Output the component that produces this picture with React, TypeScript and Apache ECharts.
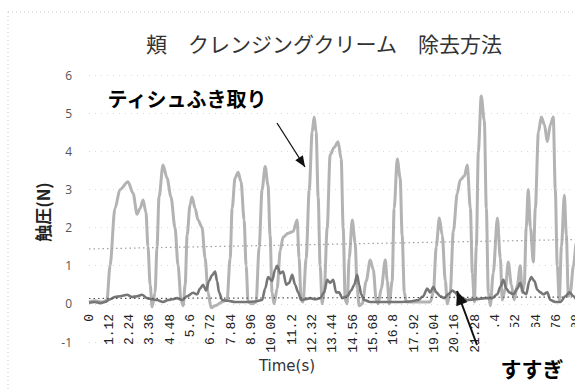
import React, { useEffect, useRef } from "react";
import * as echarts from "echarts";

const titleText = "頬　クレンジングクリーム　除去方法";
const yAxisName = "触圧(N)";
const xAxisName = "Time(s)";
const wipeLabel = "ティシュふき取り";
const rinseLabel = "すすぎ";

const xTickStep = 1.12;
const xMin = 0;
const xMax = 28;
const yMin = -1;
const yMax = 6;

// ティシュふき取り (light grey): [time(s), force(N)]
const wipeData: [number, number][] = [
  [0, 0.05], [0.33, 0.08], [0.77, 0.05], [0.99, 0.1], [1.16, 1.0], [1.43, 2.5], [1.71, 3.0],
  [2.15, 3.2], [2.43, 2.9], [2.65, 2.35], [2.81, 2.5], [2.98, 2.72], [3.14, 2.4], [3.25, 1.5],
  [3.37, 0.5], [3.48, -0.08], [3.64, 0.3], [3.75, 1.5], [3.86, 2.8], [4.08, 3.64], [4.3, 3.3],
  [4.52, 2.8], [4.74, 2.0], [4.91, 1.0], [5.07, 0.1], [5.19, -0.05], [5.3, 0.5], [5.41, 1.8],
  [5.57, 2.6], [5.68, 2.8], [5.85, 2.5], [6.01, 2.2], [6.23, 2.0], [6.4, 1.2], [6.56, 0.3],
  [6.73, -0.1], [6.95, -0.05], [7.34, 0.05], [7.61, 0.1], [7.78, 1.2], [7.89, 2.5], [8.05, 3.3],
  [8.22, 3.45], [8.38, 3.2], [8.55, 2.2], [8.66, 1.0], [8.77, 0.05], [8.99, 0.0], [9.21, 0.05],
  [9.38, 1.5], [9.54, 3.0], [9.71, 3.6], [9.87, 3.1], [9.98, 1.8], [10.09, 0.3], [10.2, 0.0],
  [10.37, 0.4], [10.54, 1.4], [10.7, 1.75], [10.98, 1.85], [11.25, 1.9], [11.47, 2.2], [11.58, 1.2],
  [11.69, 0.1], [11.8, 0.05], [11.97, 1.2], [12.14, 3.0], [12.3, 4.5], [12.41, 4.9], [12.52, 4.5],
  [12.63, 2.8], [12.74, 1.0], [12.85, 0.0], [12.96, 0.3], [13.13, 2.0], [13.29, 3.9], [13.51, 4.1],
  [13.73, 4.25], [13.9, 3.8], [14.01, 2.0], [14.12, 0.1], [14.23, 0.0], [14.34, 1.2], [14.51, 2.2],
  [14.67, 1.6], [14.78, 0.4], [14.89, -0.05], [15.06, 0.0], [15.28, 0.6], [15.5, 1.15], [15.67, 0.9],
  [15.83, 0.1], [15.94, 0.0], [16.11, 0.4], [16.33, 1.15], [16.44, 0.6], [16.55, 0.0], [16.71, 0.6],
  [16.82, 2.5], [16.99, 3.8], [17.15, 3.3], [17.26, 1.8], [17.38, 0.3], [17.49, 0.05], [18.15, 0.05],
  [18.81, 0.05], [18.98, 0.3], [19.14, 1.5], [19.31, 2.25], [19.47, 1.8], [19.64, 0.6], [19.75, 0.0],
  [19.91, 0.3], [20.08, 1.9], [20.3, 2.9], [20.46, 3.25], [20.69, 3.35], [20.85, 3.64], [21.02, 2.5],
  [21.13, 0.8], [21.24, 0.05], [21.35, 1.5], [21.46, 4.0], [21.62, 5.45], [21.79, 4.8], [21.9, 2.5],
  [22.01, 0.3], [22.12, -0.05], [22.28, 0.8], [22.51, 2.25], [22.67, 1.2], [22.78, 0.1], [22.95, 0.4],
  [23.11, 1.1], [23.28, 0.5], [23.44, 0.1], [23.61, 0.5], [23.77, 1.0], [23.88, 0.3], [23.99, 0.5],
  [24.1, 2.0], [24.21, 3.0], [24.33, 2.0], [24.49, 1.1], [24.6, 2.5], [24.77, 4.5], [24.93, 4.9],
  [25.1, 4.7], [25.26, 4.25], [25.43, 4.7], [25.59, 4.9], [25.7, 3.0], [25.81, 1.0], [25.92, 0.1],
  [26.04, 1.5], [26.2, 2.85], [26.31, 1.8], [26.42, 0.2], [26.53, 0.3], [26.7, 1.0], [26.86, 1.6],
  [27.08, 1.2],
];

// すすぎ (dark grey): [time(s), force(N)]
const rinseData: [number, number][] = [
  [0, 0.03], [0.33, 0.05], [0.61, 0.02], [0.88, 0.05], [1.16, 0.12], [1.43, 0.18], [1.71, 0.2],
  [2.1, 0.24], [2.37, 0.18], [2.65, 0.2], [2.92, 0.24], [3.2, 0.15], [3.48, 0.12], [3.75, 0.1],
  [4.08, 0.05], [4.36, 0.1], [4.58, 0.12], [4.85, 0.15], [5.13, 0.1], [5.41, 0.2], [5.74, 0.29],
  [5.96, 0.25], [6.12, 0.4], [6.29, 0.5], [6.45, 0.35], [6.62, 0.6], [6.78, 0.75], [6.95, 0.85],
  [7.06, 0.6], [7.17, 0.3], [7.34, 0.1], [7.67, 0.08], [8.05, 0.05], [8.61, 0.05], [9.16, 0.06],
  [9.54, 0.1], [9.71, 0.4], [9.87, 0.7], [10.09, 0.6], [10.26, 0.9], [10.37, 1.0], [10.54, 0.8],
  [10.7, 0.85], [10.87, 0.5], [11.03, 0.55], [11.2, 0.76], [11.36, 0.5], [11.53, 0.3], [11.69, 0.1],
  [11.91, 0.12], [12.19, 0.15], [12.47, 0.12], [12.74, 0.15], [12.96, 0.3], [13.13, 0.63], [13.29, 0.55],
  [13.46, 0.63], [13.62, 0.3], [13.79, 0.3], [13.96, 0.15], [14.23, 0.2], [14.45, 0.35], [14.62, 0.5],
  [14.78, 0.76], [14.89, 0.5], [15.0, 0.25], [15.17, 0.1], [15.5, 0.05], [16.33, 0.05], [17.15, 0.05],
  [17.71, 0.06], [18.15, 0.1], [18.42, 0.2], [18.64, 0.4], [18.81, 0.3], [18.98, 0.45], [19.14, 0.3],
  [19.36, 0.2], [19.58, 0.15], [19.8, 0.25], [20.02, 0.35], [20.19, 0.3], [20.35, 0.2], [20.57, 0.15],
  [20.85, 0.1], [21.29, 0.12], [21.84, 0.15], [22.23, 0.15], [22.51, 0.25], [22.67, 0.45], [22.84, 0.63],
  [23.0, 0.4], [23.17, 0.3], [23.39, 0.25], [23.61, 0.4], [23.77, 0.55], [23.94, 0.3], [24.1, 0.25],
  [24.27, 0.6], [24.38, 0.7], [24.55, 0.6], [24.71, 0.37], [24.88, 0.3], [25.04, 0.25], [25.26, 0.3],
  [25.43, 0.1], [25.7, 0.05], [25.98, 0.05], [26.26, 0.2], [26.48, 0.3], [26.7, 0.2], [26.92, 0.1],
  [27.14, 0.08],
];

// linear trend lines (dotted)
const wipeTrend: [number, number][] = [[0, 1.44], [27.1, 1.69]];
const rinseTrend: [number, number][] = [[0, 0.14], [27.1, 0.18]];

function arrowHead(x1: number, y1: number, x2: number, y2: number, len: number, half: number) {
  const dx = x2 - x1;
  const dy = y2 - y1;
  const d = Math.sqrt(dx * dx + dy * dy);
  const ux = dx / d;
  const uy = dy / d;
  const bx = x2 - ux * len;
  const by = y2 - uy * len;
  return [
    [x2, y2],
    [bx - uy * half, by + ux * half],
    [bx + uy * half, by - ux * half],
  ];
}

export default function App() {
  const ref = useRef<HTMLDivElement>(null);

  useEffect(() => {
    if (!ref.current) return;
    const chart = echarts.init(ref.current, undefined, { renderer: "svg" });
    const cjk = '"Noto Sans CJK JP", "Noto Sans", sans-serif';

    const gridTop = 75;
    const gridHeight = 267;
    // place the category axis at y = 0 (above the -1 row)
    const zeroOffset = -gridHeight * (0 - yMin) / (yMax - yMin);

    const a1 = { x1: 277, y1: 123, x2: 305, y2: 167 };
    const a2 = { x1: 477, y1: 345, x2: 457, y2: 291 };

    chart.setOption({
      animation: false,
      backgroundColor: "#ffffff",
      grid: { left: 89, top: gridTop, width: 508, height: gridHeight },
      xAxis: {
        type: "value",
        min: xMin,
        max: xMax,
        interval: xTickStep,
        offset: zeroOffset,
        axisLine: { show: false, onZero: false },
        axisTick: { show: false },
        splitLine: { show: false },
        axisLabel: {
          rotate: 90,
          margin: 10,
          color: "#222",
          fontFamily: '"Liberation Mono", monospace',
          fontSize: 13,
          showMaxLabel: false,
          formatter: (v: number) => String(parseFloat(v.toFixed(2))),
        },
      },
      yAxis: {
        type: "value",
        min: yMin,
        max: yMax,
        interval: 1,
        axisLine: { show: false },
        axisTick: { show: false },
        splitLine: { show: true, lineStyle: { color: "#dadada", type: [1, 5], width: 1 } },
        axisLabel: {
          margin: 17,
          color: "#555",
          fontFamily: '"Open Sans", "DejaVu Sans", sans-serif',
          fontSize: 12,
        },
      },
      series: [
        {
          type: "line",
          data: wipeData,
          showSymbol: false,
          smooth: 0.3,
          smoothMonotone: "x",
          lineStyle: { color: "#b3b3b3", width: 3 },
          z: 2,
        },
        {
          type: "line",
          data: rinseData,
          showSymbol: false,
          smooth: 0.3,
          smoothMonotone: "x",
          lineStyle: { color: "#767676", width: 2.6 },
          z: 3,
        },
        {
          type: "line",
          data: wipeTrend,
          showSymbol: false,
          lineStyle: { color: "#a0a0a0", width: 1.2, type: [1.5, 3] },
          z: 4,
        },
        {
          type: "line",
          data: rinseTrend,
          showSymbol: false,
          lineStyle: { color: "#555", width: 1.2, type: [1.5, 3] },
          z: 4,
        },
      ],
      graphic: [
        { type: "line", z: 100, shape: { x1: 8, y1: 12, x2: 575, y2: 12 }, style: { stroke: "#c4c4c4", lineWidth: 1, lineDash: [1, 3] } },
        { type: "line", z: 100, shape: { x1: 8, y1: 12, x2: 8, y2: 390 }, style: { stroke: "#c4c4c4", lineWidth: 1, lineDash: [1, 3] } },
        {
          type: "text", z: 100, x: 324, y: 43,
          style: { text: titleText, fontFamily: cjk, fontSize: 21, fill: "#333", textAlign: "center", textVerticalAlign: "middle" },
        },
        {
          type: "text", z: 100, x: 42, y: 212, rotation: Math.PI / 2,
          style: { text: yAxisName, fontFamily: cjk, fontSize: 17, fontWeight: "bold", fill: "#222", textAlign: "center", textVerticalAlign: "middle" },
        },
        {
          type: "text", z: 100, x: 287, y: 366,
          style: { text: xAxisName, fontFamily: '"DejaVu Sans", sans-serif', fontSize: 15, fill: "#333", textAlign: "center", textVerticalAlign: "middle" },
        },
        {
          type: "text", z: 100, x: 187, y: 98,
          style: { text: wipeLabel, fontFamily: cjk, fontSize: 20, fontWeight: "bold", fill: "#000", textAlign: "center", textVerticalAlign: "middle" },
        },
        { type: "rect", z: 99, shape: { x: 487, y: 327, width: 120, height: 70 }, style: { fill: "#ffffff" } },
        {
          type: "text", z: 100, x: 532, y: 368,
          style: { text: rinseLabel, fontFamily: cjk, fontSize: 21, fontWeight: "bold", fill: "#000", textAlign: "center", textVerticalAlign: "middle" },
        },
        { type: "line", z: 100, shape: { x1: a1.x1, y1: a1.y1, x2: a1.x2, y2: a1.y2 }, style: { stroke: "#111", lineWidth: 1.3 } },
        { type: "polygon", z: 100, shape: { points: arrowHead(a1.x1, a1.y1, a1.x2, a1.y2, 11, 4.5) }, style: { fill: "#111" } },
        { type: "line", z: 100, shape: { x1: a2.x1, y1: a2.y1, x2: a2.x2, y2: a2.y2 }, style: { stroke: "#111", lineWidth: 2 } },
        { type: "polygon", z: 100, shape: { points: arrowHead(a2.x1, a2.y1, a2.x2, a2.y2, 14, 6) }, style: { fill: "#111" } },
      ],
    });

    return () => chart.dispose();
  }, []);

  return (
    <div style={{ position: "fixed", left: 0, top: 0, width: 575, height: 390, overflow: "hidden", background: "#fff" }}>
      <div ref={ref} style={{ width: 620, height: 390 }} />
    </div>
  );
}
